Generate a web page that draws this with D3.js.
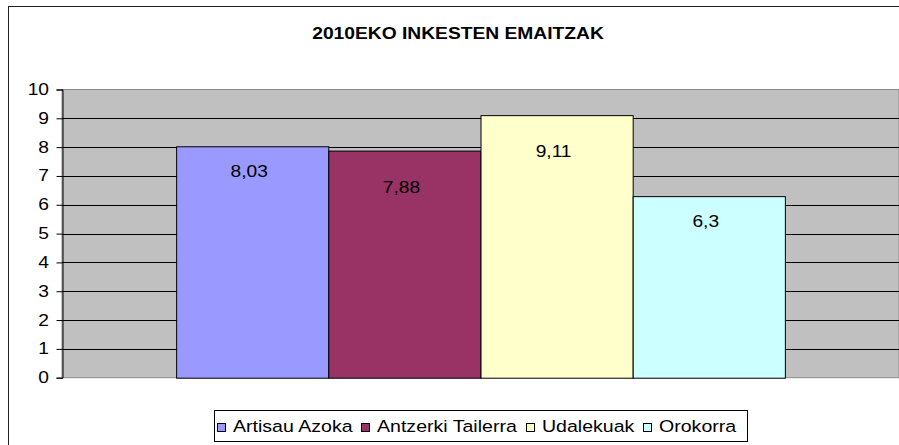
<!DOCTYPE html>
<html><head><meta charset="utf-8">
<script src="https://cdn.jsdelivr.net/npm/d3@7"></script>
<style>html,body{margin:0;padding:0;background:#fff;overflow:hidden}</style>
</head><body>
<svg id="c" width="899" height="445"></svg>
<script>
const title = "2010EKO INKESTEN EMAITZAK";
const categories = [""];
const seriesNames = ["Artisau Azoka", "Antzerki Tailerra", "Udalekuak", "Orokorra"];
const seriesValues = [8.03, 7.88, 9.11, 6.3];
const valueLabels = ["8,03", "7,88", "9,11", "6,3"];
const seriesColors = ["#9999FF", "#993366", "#FFFFCC", "#CCFFFF"];
const yTicks = [0,1,2,3,4,5,6,7,8,9,10];

const svg = d3.select("#c");
const FONT = "'Liberation Sans', Arial, sans-serif";
const SX = 1.2;

// chart border
svg.append("rect").attr("x",8.5).attr("y",6.5).attr("width",1000).attr("height",1000)
  .attr("fill","#fff").attr("stroke","#222").attr("stroke-width",1);

function stretchedText(parent, x, y, txt, opts={}) {
  const g = parent.append("g").attr("transform",`translate(${x},${y}) scale(${opts.sx||SX},1)`);
  const t = g.append("text").text(txt)
    .attr("font-family",FONT).attr("font-size",opts.size||16)
    .attr("font-weight",opts.bold?"bold":"normal")
    .attr("text-anchor",opts.anchor||"start").attr("fill","#000");
  return t;
}

// title
stretchedText(svg, 458, 39, title, {bold:true, anchor:"middle", size:16.3, sx:1.18});

const plotL = 62, plotR = 899, plotT = 89.5, plotB = 377.7;
const y = d3.scaleLinear().domain([0,10]).range([plotB, plotT]);
const x0 = d3.scaleBand().domain(categories).range([plotL, plotR]).paddingInner(0).paddingOuter(0.1875);
const x1 = d3.scaleBand().domain(seriesNames).range([0, x0.bandwidth()]).padding(0);

// plot background
svg.append("rect").attr("x",plotL).attr("y",y(10)).attr("width",plotR-plotL).attr("height",y(0)-y(10))
  .attr("fill","#C0C0C0").attr("stroke","#8a8a8a").attr("stroke-width",1);

// gridlines
svg.append("g").selectAll("line").data(yTicks.filter(d=>d>0 && d<10)).join("line")
  .attr("x1",plotL).attr("x2",plotR)
  .attr("y1",d=>Math.round(y(d))+0.5).attr("y2",d=>Math.round(y(d))+0.5)
  .attr("stroke","#000").attr("stroke-width",1);

// y axis
const yAxis = d3.axisLeft(y).tickValues(yTicks).tickSize(6).tickFormat(d3.format("d"));
const ax = svg.append("g").attr("transform",`translate(${plotL+0.5},0)`).call(yAxis);
ax.select(".domain").attr("stroke","#000");
ax.selectAll(".tick line").attr("stroke","#000");
ax.selectAll(".tick text").remove();
yTicks.forEach(d => {
  stretchedText(svg, 49, y(d)+5.5, String(d), {anchor:"end", size:16});
});

// bars
const cat = x0(categories[0]);
svg.append("g").selectAll("rect").data(seriesValues).join("rect")
  .attr("x",(d,i)=>cat + x1(seriesNames[i]) + 0.5)
  .attr("y",d=>y(d)+0.5)
  .attr("width",x1.bandwidth())
  .attr("height",d=>y(0)-y(d))
  .attr("fill",(d,i)=>seriesColors[i])
  .attr("stroke","#000").attr("stroke-width",1);

// value labels
const lastIdx = seriesValues.length - 1;
seriesValues.forEach((d,i) => {
  const cx = cat + x1(seriesNames[i]) + x1.bandwidth()/2 - 3;
  const off = (i === 0 || i === lastIdx) ? 31 : 42;
  stretchedText(svg, cx, y(d) + off, valueLabels[i], {anchor:"middle", size:16});
});

// legend
const lg = svg.append("g");
const items = [];
let cx = 0;
const MT = 16, GAP = 9;
seriesNames.forEach((n,i) => {
  const t = stretchedText(lg, 0, 0, n, {size:16.3});
  const w = t.node().getComputedTextLength()*SX;
  items.push({t, w, start: cx});
  cx += MT + w + (i < seriesNames.length-1 ? GAP : 0);
});
const totalW = cx;
const boxW = totalW + 13;
const legBoxL = 480 - boxW/2;
const legL = legBoxL + 3;
lg.insert("rect",":first-child").attr("x",Math.round(legBoxL)+0.5).attr("y",410.5)
  .attr("width",Math.round(boxW)).attr("height",31)
  .attr("fill","#fff").attr("stroke","#000").attr("stroke-width",1);
items.forEach((it,i) => {
  const mx = Math.round(legL + it.start);
  lg.append("rect").attr("x",mx+0.5).attr("y",423.5).attr("width",8).attr("height",8)
    .attr("fill",seriesColors[i]).attr("stroke","#000").attr("stroke-width",1);
  it.t.node().parentNode.setAttribute("transform",`translate(${mx+MT},432) scale(${SX},1)`);
});
</script>
</body></html>
